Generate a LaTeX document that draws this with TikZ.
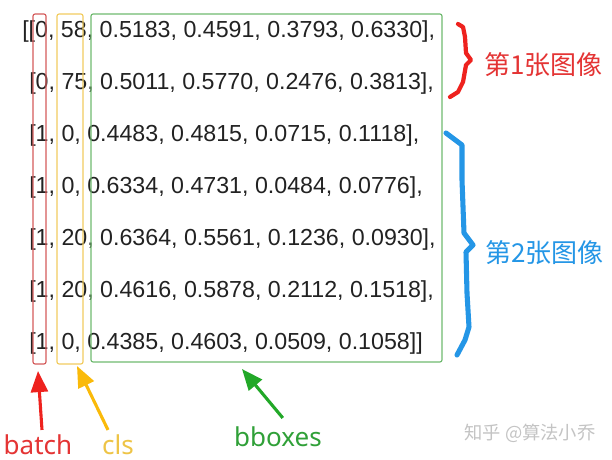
\documentclass[tikz,border=0pt]{standalone}
\usepackage{fontspec}
\setmainfont{Liberation Sans}
\newfontfamily\cjk{Noto Sans CJK SC}
\newfontfamily\lab{Noto Sans}
\usepackage{tikz}
\usetikzlibrary{arrows.meta}

\definecolor{txt}{RGB}{34,34,34}
\definecolor{boxred}{RGB}{212,92,92}
\definecolor{boxyel}{RGB}{242,204,96}
\definecolor{boxgrn}{RGB}{112,186,112}
\definecolor{arrred}{RGB}{238,34,30}
\definecolor{arryel}{RGB}{250,186,10}
\definecolor{arrgrn}{RGB}{34,168,40}
\definecolor{labred}{RGB}{228,52,52}
\definecolor{labyel}{RGB}{238,196,70}
\definecolor{labgrn}{RGB}{48,160,56}
\definecolor{brblue}{RGB}{36,150,230}
\definecolor{wmark}{RGB}{196,196,196}

\tikzset{
    row/.style={anchor=base west, inner sep=0pt, text=txt,
        font=\fontsize{16.5}{18}\selectfont},
    colbox/.style={line width=0.8pt, rounded corners=1.5pt},
    pointer/.style={line width=2.2pt,
        -{Triangle[width=12pt,length=15pt]}},
    tag/.style={anchor=base, inner sep=0pt, font=\lab\fontsize{18.5}{20}\selectfont},
    brace/.style={line width=3pt, line cap=round, line join=round},
    imgtag/.style={anchor=west, inner sep=0pt, font=\cjk\fontsize{18.5}{20}\selectfont}
}

\begin{document}
\begin{tikzpicture}[x=0.025cm, y=-0.025cm]
    \useasboundingbox[fill=white] (0,0) rectangle (612,460);

    % the tensor, one row per box
    \node[row] (r1) at (22,37)  {[[0, 58, 0.5183, 0.4591, 0.3793, 0.6330],};
    \node[row] (r2) at (29,89)  {[0, 75, 0.5011, 0.5770, 0.2476, 0.3813],};
    \node[row] (r3) at (29,141) {[1, 0, 0.4483, 0.4815, 0.0715, 0.1118],};
    \node[row] (r4) at (29,193) {[1, 0, 0.6334, 0.4731, 0.0484, 0.0776],};
    \node[row] (r5) at (29,245) {[1, 20, 0.6364, 0.5561, 0.1236, 0.0930],};
    \node[row] (r6) at (29,297) {[1, 20, 0.4616, 0.5878, 0.2112, 0.1518],};
    \node[row] (r7) at (29,349) {[1, 0, 0.4385, 0.4603, 0.0509, 0.1058]]};

    % column boxes
    \draw[colbox, boxred] (33,14) rectangle (46,364);
    \draw[colbox, boxyel] (57,14) rectangle (83,364);
    \draw[colbox, boxgrn] (91,14) rectangle (442,362);
    \coordinate (batchtip) at (38,371);
    \coordinate (clstip) at (77,366);
    \coordinate (bboxtip) at (242,369);

    % labels under the boxes
    \node[tag, labred] (batch) at (38,454) {batch};
    \node[tag, labyel] (cls) at (118,454) {cls};
    \node[tag, labgrn] (bboxes) at (278,446) {bboxes};
    \draw[pointer, arrred] ([xshift=0.1cm, yshift=0.1cm]batch.north) -- (batchtip);
    \draw[pointer, arryel] ([xshift=-0.25cm, yshift=0.1cm]cls.north) -- (clstip);
    \draw[pointer, arrgrn] ([xshift=0.12cm, yshift=0.2cm]bboxes.north) -- (bboxtip);

    % braces for the two images
    \draw[brace, arrred] (458,24) -- (463,27) -- (465,37) -- (466,53)
        -- (471,60) -- (466,65) -- (463,82) -- (458,92) -- (450,97);
    \draw[brace, brblue, line width=3.6pt] (446,133) -- (462,145) -- (462,180)
        -- (464,233) -- (473,245) -- (466,252) -- (467,293) -- (469,327)
        -- (465,340) -- (457,355);
    \node[imgtag, labred] (img1) at (484,65) {第1张图像};
    \node[imgtag, brblue] (img2) at (485,253) {第2张图像};

    \node[wmark, inner sep=0pt, font=\cjk\fontsize{13}{14}\selectfont]
        (zhihu) at (530,433) {知乎 @算法小乔};
\end{tikzpicture}
\end{document}
